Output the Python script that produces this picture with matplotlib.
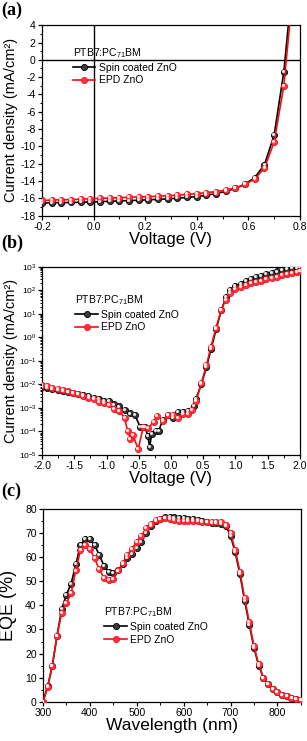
import numpy as np
import matplotlib
matplotlib.use("Agg")
from matplotlib import pyplot as plt
from matplotlib.ticker import MultipleLocator, LogLocator, NullFormatter
from matplotlib.transforms import offset_copy

plt.rcParams['font.family'] = ['Liberation Sans', 'DejaVu Sans']
plt.rcParams['axes.unicode_minus'] = False
plt.rcParams['mathtext.fontset'] = 'custom'
plt.rcParams['mathtext.rm'] = 'Liberation Sans'

# (a) J-V under illumination
v_a = [-0.2, -0.1625, -0.125, -0.0875, -0.05, -0.0125, 0.025, 0.0625, 0.1, 0.1375,
       0.175, 0.2125, 0.25, 0.2875, 0.325, 0.3625, 0.4, 0.4375, 0.475, 0.5125,
       0.55, 0.5875, 0.625, 0.6625, 0.7, 0.7375, 0.775]
j_spin_a = [-16.55, -16.52, -16.5, -16.48, -16.45, -16.42, -16.38, -16.34, -16.3, -16.26,
            -16.22, -16.17, -16.12, -16.06, -15.98, -15.9, -15.8, -15.65, -15.45, -15.2,
            -14.85, -14.35, -13.6, -12.1, -8.7, -1.4, 10.2]
j_epd_a = [-16.25, -16.2, -16.17, -16.14, -16.1, -16.05, -16.0, -15.97, -15.93, -15.88,
           -15.85, -15.8, -15.76, -15.7, -15.64, -15.55, -15.45, -15.35, -15.22, -15.05,
           -14.8, -14.4, -13.75, -12.5, -9.5, -3.0, 8.7]

# (b) dark J-V, log scale
v_spin_b = [-2.0, -1.92, -1.84, -1.76, -1.68, -1.6, -1.52, -1.44, -1.36, -1.28, -1.2, -1.12,
            -1.04, -0.96, -0.88, -0.8, -0.72, -0.64, -0.56, -0.48, -0.4, -0.36, -0.33, -0.3,
            -0.24, -0.19, -0.13, -0.05, 0.03, 0.11, 0.19, 0.27, 0.35, 0.39, 0.47, 0.55, 0.62,
            0.7, 0.78, 0.85, 0.91, 1.0, 1.08, 1.16, 1.24, 1.32, 1.4, 1.48, 1.56, 1.64, 1.72,
            1.8, 1.88, 1.96, 2.0]
j_spin_b = [8.0e-3, 7.3e-3, 6.6e-3, 6.0e-3, 5.4e-3, 4.9e-3, 4.4e-3, 4.0e-3, 3.6e-3, 3.1e-3,
            2.6e-3, 2.3e-3, 2.0e-3, 1.9e-3, 1.4e-3, 1.15e-3, 8.0e-4, 5.8e-4, 5.0e-4, 1.6e-4,
            1.5e-4, 6.5e-5, 2.2e-5, 8.0e-5, 1.0e-4, 1.05e-4, 3.0e-4, 4.8e-4, 3.6e-4, 6.5e-4,
            6.5e-4, 7.6e-4, 1.2e-3, 2.5e-3, 1.0e-2, 5.3e-2, 3.1e-1, 2.2, 14, 50, 100, 150,
            190, 250, 300, 360, 420, 500, 560, 630, 700, 780, 850, 920, 950]
v_epd_b = [-2.0, -1.92, -1.84, -1.76, -1.68, -1.6, -1.52, -1.44, -1.36, -1.28, -1.2, -1.12,
           -1.04, -0.96, -0.88, -0.8, -0.72, -0.67, -0.63, -0.59, -0.51, -0.43, -0.35, -0.27,
           -0.21, -0.13, -0.05, 0.03, 0.11, 0.19, 0.27, 0.33, 0.39, 0.47, 0.55, 0.62, 0.7,
           0.78, 0.85, 0.91, 1.0, 1.08, 1.16, 1.24, 1.32, 1.4, 1.48, 1.56, 1.64, 1.72, 1.8,
           1.88, 1.96, 2.0]
j_epd_b = [9.0e-3, 8.2e-3, 7.3e-3, 6.5e-3, 5.8e-3, 5.0e-3, 4.4e-3, 3.8e-3, 3.2e-3, 2.7e-3,
           2.3e-3, 1.8e-3, 1.6e-3, 1.4e-3, 9.0e-4, 7.5e-4, 3.7e-4, 1.0e-4, 5.0e-5, 7.0e-5,
           1.8e-5, 1.5e-4, 1.4e-4, 2.6e-4, 4.5e-4, 2.9e-4, 5.0e-4, 5.0e-4, 3.7e-4, 5.5e-4,
           5.5e-4, 8.0e-4, 2.0e-3, 1.1e-2, 6.5e-2, 4.0e-1, 2.6, 15, 40, 75, 110, 140, 170,
           200, 230, 260, 300, 340, 380, 430, 480, 540, 610, 680]

# (c) EQE
wl = list(range(300, 851, 10))
eqe_spin = [0, 6.5, 15, 27.5, 38.5, 44.5, 49, 57, 65, 67.5, 67.5, 65, 61, 56.5, 54, 53.5,
            54.5, 57, 59.5, 61.5, 64, 66.5, 70, 73, 75, 76, 76.5, 76.8, 76.5, 76.3, 76.2,
            76, 75.8, 75.5, 75, 74.5, 74.3, 74.3, 74, 73, 69, 62, 53, 42, 32, 22.5, 15, 10,
            7.5, 5.2, 4, 3, 2.2, 1.5, 1.0, 0.8]
eqe_epd = [0, 6, 15, 27.5, 37, 41, 45, 54.5, 63, 65, 63.5, 59.5, 55, 51.5, 50.5, 51,
           54.5, 57.5, 61, 63.5, 66.5, 69, 72, 74, 75.5, 76, 76.2, 76, 75.5, 75.2, 75,
           75, 75, 75, 74.8, 74.6, 74.5, 74.8, 74.5, 73.5, 70, 63, 54, 43, 33, 23, 15.5, 10,
           7.5, 5.2, 4, 3, 2.2, 1.5, 1.0, 0.8]

fig = plt.figure(figsize=(3.07, 7.41), dpi=100)
ax_a = fig.add_axes([0.137, 0.709, 0.840, 0.257])
ax_b = fig.add_axes([0.137, 0.386, 0.840, 0.254])
ax_c = fig.add_axes([0.140, 0.053, 0.840, 0.260])


def draw(ax, x, y, col, face, lab):
    ax.plot(x, y, '-o', color=col, lw=1.2, ms=4.4, mfc=face, mec=col, mew=0.6,
            label=lab, zorder=3)
    hl = offset_copy(ax.transData, fig=fig, x=-0.7, y=0.7, units='points')
    ax.plot(x, y, 'o', ms=1.3, color='white', alpha=0.8, transform=hl, zorder=4)


for ax in (ax_a, ax_b, ax_c):
    for s in ax.spines.values():
        s.set_linewidth(0.9)
    ax.tick_params(which='major', length=3, width=0.9, labelsize=7.5, pad=1.5)
    ax.tick_params(which='minor', length=1.8, width=0.7)

# (a)
ax_a.axhline(0, color='black', lw=1.0, zorder=1)
ax_a.axvline(0, color='black', lw=1.0, zorder=1)
draw(ax_a, v_a, j_spin_a, 'black', '#3a3a3a', 'Spin coated ZnO')
draw(ax_a, v_a, j_epd_a, '#ee1111', '#ff3344', 'EPD ZnO')
ax_a.set_xlim(-0.2, 0.8)
ax_a.set_ylim(-18, 4)
ax_a.xaxis.set_minor_locator(MultipleLocator(0.1))
ax_a.yaxis.set_major_locator(MultipleLocator(2))
ax_a.yaxis.set_minor_locator(MultipleLocator(1))
ax_a.set_xticks([-0.2, 0.0, 0.2, 0.4, 0.6, 0.8])
ax_a.set_xticklabels(['-0.2', '0.0', '0.2', '0.4', '0.6', '0.8'])
ax_a.set_xlabel('Voltage (V)', fontsize=12, labelpad=0)
ax_a.set_ylabel('Current density (mA/cm²)', fontsize=10.5)
ax_a.yaxis.set_label_coords(-0.095, 0.5)

# (b)
draw(ax_b, v_spin_b, j_spin_b, 'black', '#3a3a3a', 'Spin coated ZnO')
draw(ax_b, v_epd_b, j_epd_b, '#ee1111', '#ff3344', 'EPD ZnO')
ax_b.set_yscale('log')
ax_b.set_xlim(-2, 2)
ax_b.set_ylim(1e-5, 1e3)
ax_b.xaxis.set_minor_locator(MultipleLocator(0.25))
ax_b.set_xticks(np.arange(-2, 2.01, 0.5))
ax_b.set_xticklabels(['-2.0', '-1.5', '-1.0', '-0.5', '0.0', '0.5', '1.0', '1.5', '2.0'])
ax_b.yaxis.set_major_locator(LogLocator(base=10, numticks=20))
ax_b.yaxis.set_minor_locator(LogLocator(base=10, subs=np.arange(2, 10), numticks=20))
ax_b.yaxis.set_minor_formatter(NullFormatter())
ax_b.tick_params(axis='y', labelsize=6, pad=1)
ax_b.set_xlabel('Voltage (V)', fontsize=12, labelpad=0)
ax_b.set_ylabel('Current density (mA/cm²)', fontsize=10.5)
ax_b.yaxis.set_label_coords(-0.095, 0.5)

# (c)
draw(ax_c, wl, eqe_spin, 'black', '#3a3a3a', 'Spin coated ZnO')
draw(ax_c, wl, eqe_epd, '#ee1111', '#ff3344', 'EPD ZnO')
ax_c.set_xlim(300, 850)
ax_c.set_ylim(0, 80)
ax_c.xaxis.set_major_locator(MultipleLocator(100))
ax_c.xaxis.set_minor_locator(MultipleLocator(50))
ax_c.yaxis.set_major_locator(MultipleLocator(10))
ax_c.yaxis.set_minor_locator(MultipleLocator(5))
ax_c.set_xlabel('Wavelength (nm)', fontsize=12.5, labelpad=0)
ax_c.set_ylabel('EQE (%)', fontsize=13)
ax_c.yaxis.set_label_coords(-0.1, 0.5)

for ax, anchor in ((ax_a, (0.11, 0.90)), (ax_b, (0.12, 0.87)), (ax_c, (0.23, 0.51))):
    leg = ax.legend(loc='upper left', bbox_to_anchor=anchor, frameon=False,
                    title='PTB7:PC$_{71}$BM', fontsize=7.5, title_fontsize=7.5,
                    handlelength=2.2, handletextpad=0.3, labelspacing=0.25,
                    borderaxespad=0, borderpad=0.2, alignment='left')

for lab, y in (('(a)', 0.998), ('(b)', 0.683), ('(c)', 0.349)):
    fig.text(0.005, y, lab, fontsize=13, fontweight='bold', family='Liberation Serif',
             va='top', ha='left')

fig.savefig('out.png', dpi=100)
